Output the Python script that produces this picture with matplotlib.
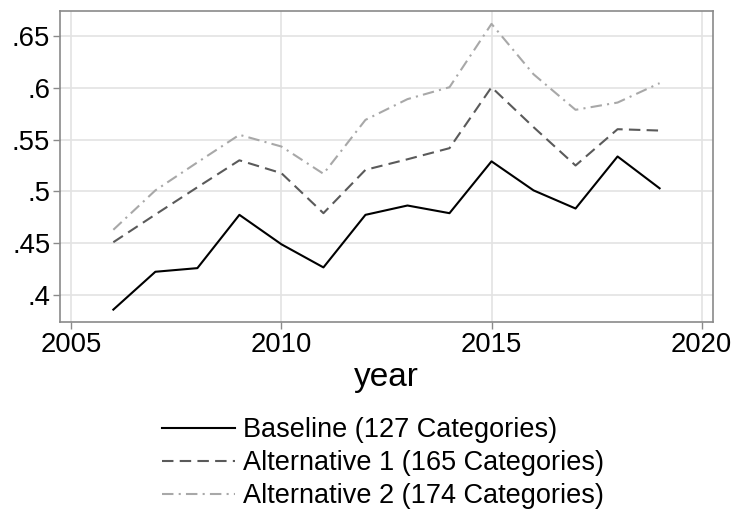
import matplotlib
matplotlib.use("Agg")
import matplotlib.pyplot as plt

plt.rcParams['font.family'] = ['Liberation Sans', 'DejaVu Sans']

years = [2006, 2007, 2008, 2009, 2010, 2011, 2012, 2013, 2014, 2015, 2016, 2017, 2018, 2019]
baseline = [0.386, 0.4225, 0.426, 0.4774, 0.449, 0.4267, 0.4774, 0.4864, 0.479, 0.529, 0.501, 0.4835, 0.5337, 0.503]
alt1 = [0.451, 0.4777, 0.504, 0.530, 0.5176, 0.479, 0.5208, 0.531, 0.5417, 0.6005, 0.562, 0.525, 0.560, 0.5587]
alt2 = [0.463, 0.501, 0.528, 0.5546, 0.5433, 0.517, 0.569, 0.589, 0.6005, 0.6616, 0.613, 0.5787, 0.5857, 0.6044]
labels = ["Baseline (127 Categories)", "Alternative 1 (165 Categories)", "Alternative 2 (174 Categories)"]
xticks = [2005, 2010, 2015, 2020]
yticks = [0.4, 0.45, 0.5, 0.55, 0.6, 0.65]
ytick_labels = [".4", ".45", ".5", ".55", ".6", ".65"]

fig = plt.figure(figsize=(7.35, 5.12), dpi=100)
ax = fig.add_axes([0.0816, 0.371, 0.970 - 0.0816, 0.9785 - 0.371])

ax.plot(years, baseline, color='black', lw=1.5, ls='-', label=labels[0])
ax.plot(years, alt1, color='#5a5a5a', lw=1.5, ls=(0, (5.5, 3)), label=labels[1])
ax.plot(years, alt2, color='#a8a8a8', lw=1.5, ls=(0, (5.5, 2.5, 1, 2.5)), label=labels[2])

ax.set_xlim(2004.73, 2020.27)
ax.set_ylim(0.374, 0.674)
ax.set_xticks(xticks)
ax.set_xticklabels([str(x) for x in xticks])
ax.set_yticks(yticks)
ax.set_yticklabels(ytick_labels)
ax.grid(True, color='#e3e3e3', lw=1.2)
ax.set_axisbelow(True)
for s in ax.spines.values():
    s.set_color('#8a8a8a')
    s.set_linewidth(1.2)
ax.tick_params(axis='both', colors='#8a8a8a', labelcolor='black', labelsize=19.8, length=5, width=1)
ax.tick_params(axis='x', pad=2)
ax.tick_params(axis='y', pad=2)
ax.set_xlabel('year', fontsize=24, labelpad=3)

handles, labs = ax.get_legend_handles_labels()
fig.legend(handles, labs, loc='upper center', bbox_to_anchor=(0.521, 0.212), frameon=False,
           fontsize=19.5, handlelength=2.67, handletextpad=0.3, labelspacing=0.26, borderpad=0)

fig.savefig('out.png', dpi=100)
